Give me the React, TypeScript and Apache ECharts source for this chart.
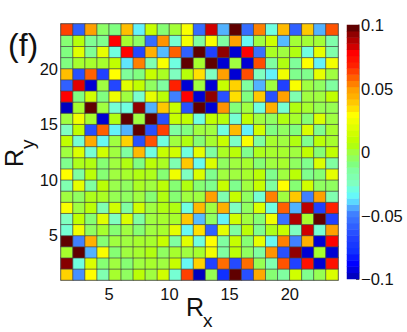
import React, { useEffect, useRef } from "react";
import * as echarts from "echarts";

const FONT = "Liberation Sans";
const cellIndex = [1, 2, 3, 4, 5, 6, 7, 8, 9, 10, 11, 12, 13, 14, 15, 16, 17, 18, 19, 20, 21, 22, 23];
const axisTicks = [5, 10, 15, 20];
const colorbarTicks = [-0.1, -0.05, 0, 0.05, 0.1];

// rows listed from the top of the picture (Ry = 23) to the bottom (Ry = 1)
const r23 = [.065,-.06,.05,-.006,-.01,.042,-.036,.012,-.008,.001,.028,-.056,.085,-.044,.1,-.056,.055,-.03,.043,-.06,.04,-.044,.062];
const r22 = [-.008,.007,-.013,-.012,.08,.002,-.006,-.056,.052,-.028,.026,-.015,.028,-.015,.05,-.034,0,.014,-.043,.001,.001,.001,-.018];
const r21 = [-.01,.02,-.013,.022,-.03,.08,-.068,.045,-.043,.06,-.06,.1,-.07,.095,-.097,.08,-.055,.003,0,.005,-.03,.022,-.018];
const r20 = [-.01,.002,.002,.002,.01,-.038,.055,-.02,.028,-.03,.1,.002,.1,-.097,0,-.097,.063,-.015,.005,-.014,.03,-.036,.026];
const r19 = [.042,-.065,.06,-.07,.03,-.014,-.01,.012,.003,-.025,.007,.035,-.025,.05,-.097,.063,-.025,-.036,.025,-.012,-.012,.022,0];
const r18 = [-.06,.083,-.097,0,-.068,.02,.01,-.005,-.015,.07,-.097,0,-.097,.012,.038,-.015,-.044,0,-.07,.028,0,-.005,-.015];
const r17 = [.08,-.01,.015,-.01,.025,0,-.027,.022,.008,-.05,.08,-.097,.095,-.065,.035,-.01,.04,-.065,.05,-.02,0,0,.01];
const r16 = [-.1,.002,.1,0,-.028,-.03,.095,-.044,.04,.012,-.065,.1,-.097,.052,-.009,0,-.03,.045,-.028,.005,.002,-.003,-.003];
const r15 = [0,.025,.002,-.097,.005,.1,0,.1,-.065,.012,.01,-.03,.01,.007,-.028,.01,0,-.005,.005,.002,-.008,.018,0];
const r14 = [-.025,.01,-.065,.06,-.036,-.044,.1,-.065,.065,-.015,-.01,0,0,-.03,.043,-.036,.015,-.01,-.005,-.01,.018,-.012,.002];
const r13 = [.01,-.028,.047,-.034,0,.038,-.065,.062,-.03,0,.005,-.008,.002,.012,-.026,.028,-.015,.002,0,.005,-.012,.008,.002];
const r12 = [0,.018,-.028,.015,0,-.015,.043,-.03,.012,.015,-.03,.022,-.015,.003,.008,-.012,.004,.002,.002,0,.01,-.008,.01];
const r11 = [-.012,.004,.005,-.008,0,.005,-.01,.008,.003,-.02,.04,-.033,.018,-.005,0,.002,-.008,0,.002,-.005,-.012,.018,-.015];
const r10 = [.03,-.015,.008,-.008,0,.002,.005,.004,-.008,.025,-.025,.018,-.012,0,0,.002,.008,-.012,0,.008,-.012,-.008,.022];
const r9 = [-.02,.022,-.015,.008,-.002,-.005,.003,0,.008,-.008,.005,-.008,-.012,.012,-.012,0,.012,-.015,.03,-.008,.015,-.005,-.005];
const r8 = [0,-.005,.004,.003,-.003,-.005,0,-.008,.005,-.008,0,0,.05,-.02,.012,-.005,-.028,.055,0,.04,-.05,.05,-.02];
const r7 = [.028,0,.008,-.02,.015,-.015,.015,0,.005,.005,-.03,.043,0,.045,-.025,-.005,.018,-.03,.06,-.044,.088,-.07,.07];
const r6 = [-.025,.01,-.008,.02,-.025,.018,-.015,0,.002,.002,.04,-.043,-.005,-.036,.015,0,-.008,.025,-.055,.09,.002,.1,-.07];
const r5 = [-.028,.025,-.005,.002,-.008,0,-.008,0,.002,.022,-.034,.035,-.06,.022,-.015,.008,-.012,.004,.012,-.025,.085,-.028,.05];
const r4 = [.1,-.05,.045,-.008,0,0,.002,.002,.012,-.015,.02,-.03,.03,-.015,.012,-.008,.022,-.034,.055,-.05,.045,-.097,.08];
const r3 = [.002,.1,-.044,.028,-.008,0,.002,.005,-.005,.002,0,.002,.025,-.015,.008,-.005,-.015,.052,-.065,.095,-.097,.002,-.097];
const r2 = [.096,-.03,.018,-.008,0,-.008,0,.002,0,.012,-.034,.038,-.07,.058,-.067,.058,-.003,-.02,.062,-.07,.075,-.097,.075];
const r1 = [.038,-.048,.03,-.02,.002,-.005,.008,0,.015,-.028,.065,-.1,-.003,-.08,.1,-.065,.047,-.008,-.015,.015,-.012,-.003,.018];
const rowsBottomUp = [r1, r2, r3, r4, r5, r6, r7, r8, r9, r10, r11, r12, r13, r14, r15, r16, r17, r18, r19, r20, r21, r22, r23];

const colormap = [
  "#0000c0","#0000e0","#0000ff","#0818ff","#1030ff","#1838ff","#2040ff","#2850ff","#3060ff","#3870ff","#4080ff",
  "#50a8ff","#5cd8ff","#66f8f8","#70ffe0","#80ffc0","#80ffb0","#80ffa0","#80ff80","#90ff60","#a0ff40",
  "#b0ff10","#c0ff00","#d0ff00","#e0ff00","#f0ff00","#ffff00","#ffe000","#ffc800","#ffb000","#ffa000",
  "#ff8000","#ff6000","#ff4000","#ff2000","#ff1000","#ff0000","#d00000","#b00000","#900000","#600000",
];
const colorbarLevels = [
  -0.1,-0.095,-0.09,-0.085,-0.08,-0.075,-0.07,-0.065,-0.06,-0.055,-0.05,-0.045,-0.04,-0.035,-0.03,-0.025,-0.02,-0.015,-0.01,-0.005,
  0,0.005,0.01,0.015,0.02,0.025,0.03,0.035,0.04,0.045,0.05,0.055,0.06,0.065,0.07,0.075,0.08,0.085,0.09,0.095,0.1,
];

const fmtBar = (v: number) => {
  const r = Math.round(v * 100) / 100;
  if (r === 0) return "0";
  return (r < 0 ? "\u2212" : "") + String(Math.abs(r));
};

export default function App() {
  const ref = useRef<HTMLDivElement>(null);
  useEffect(() => {
    document.body.style.margin = "0";
    const chart = echarts.init(ref.current!, undefined, { renderer: "svg" });
    const cells: number[][] = [];
    rowsBottomUp.forEach((row, y) => row.forEach((v, x) => cells.push([x, y, v])));
    const frame = { show: true, lineStyle: { color: "#888", width: 1.5 } };
    chart.setOption({
      animation: false,
      backgroundColor: "#fff",
      textStyle: { fontFamily: FONT },
      visualMap: {
        show: false, type: "continuous", min: -0.1, max: 0.1, dimension: 2,
        seriesIndex: [0, 1], inRange: { color: colormap },
      },
      grid: [
        { left: 61, top: 24, width: 277, height: 256, show: false },
        { left: 347, top: 25, width: 12, height: 254, show: false },
      ],
      xAxis: [
        { type: "category", gridIndex: 0, data: cellIndex, axisLine: { show: false }, axisTick: { show: false }, axisLabel: { show: false } },
        {
          type: "value", gridIndex: 0, min: 1, max: 24, position: "bottom", splitLine: { show: false },
          axisLine: frame,
          axisTick: { show: true, inside: true, length: 3, customValues: axisTicks, lineStyle: { color: "#555" } },
          axisLabel: { customValues: axisTicks, fontFamily: FONT, fontSize: 16.5, color: "#111", margin: 5 },
        },
        {
          type: "value", gridIndex: 0, min: 1, max: 24, position: "top", splitLine: { show: false },
          axisLine: frame, axisTick: { show: false }, axisLabel: { show: false },
        },
        { type: "category", gridIndex: 1, data: [0], axisLine: { show: false }, axisTick: { show: false }, axisLabel: { show: false } },
      ],
      yAxis: [
        { type: "category", gridIndex: 0, data: cellIndex, axisLine: { show: false }, axisTick: { show: false }, axisLabel: { show: false } },
        {
          type: "value", gridIndex: 0, min: 1, max: 24, position: "left", splitLine: { show: false },
          axisLine: frame,
          axisTick: { show: true, inside: true, length: 3, customValues: axisTicks, lineStyle: { color: "#555" } },
          axisLabel: { customValues: axisTicks, fontFamily: FONT, fontSize: 16.5, color: "#111", margin: 3 },
        },
        {
          type: "value", gridIndex: 0, min: 1, max: 24, position: "right", splitLine: { show: false },
          axisLine: frame, axisTick: { show: false }, axisLabel: { show: false },
        },
        { type: "category", gridIndex: 1, data: colorbarLevels, axisLine: { show: false }, axisTick: { show: false }, axisLabel: { show: false } },
        {
          type: "value", gridIndex: 1, min: -0.1, max: 0.1, position: "right", splitLine: { show: false },
          axisLine: frame,
          axisTick: { show: true, inside: true, length: 3, customValues: colorbarTicks, lineStyle: { color: "#555" } },
          axisLabel: { customValues: colorbarTicks, formatter: fmtBar, fontFamily: FONT, fontSize: 16.5, color: "#111", margin: 2 },
        },
      ],
      series: [
        {
          type: "heatmap", xAxisIndex: 0, yAxisIndex: 0, data: cells, z: 1,
          itemStyle: { borderColor: "rgba(70,70,70,0.7)", borderWidth: 1 },
          emphasis: { disabled: true }, silent: true,
        },
        {
          type: "heatmap", xAxisIndex: 3, yAxisIndex: 3, z: 1,
          data: colorbarLevels.map((v, i) => [0, i, v]),
          emphasis: { disabled: true }, silent: true,
        },
      ],
      graphic: [
        { type: "text", x: 8, y: 29, style: { text: "(f)", font: `32px ${FONT}`, fill: "#111" } },
        { type: "text", x: 186, y: 294, style: { text: "R", font: `25px ${FONT}`, fill: "#111" } },
        { type: "text", x: 203, y: 311, style: { text: "x", font: `19px ${FONT}`, fill: "#111" } },
        { type: "text", x: 1, y: 167, rotation: Math.PI / 2, style: { text: "R", font: `25px ${FONT}`, fill: "#111" } },
        { type: "text", x: 18, y: 149, rotation: Math.PI / 2, style: { text: "y", font: `19px ${FONT}`, fill: "#111" } },
      ],
    });
    return () => chart.dispose();
  }, []);
  return <div ref={ref} style={{ width: 407, height: 332 }} />;
}
